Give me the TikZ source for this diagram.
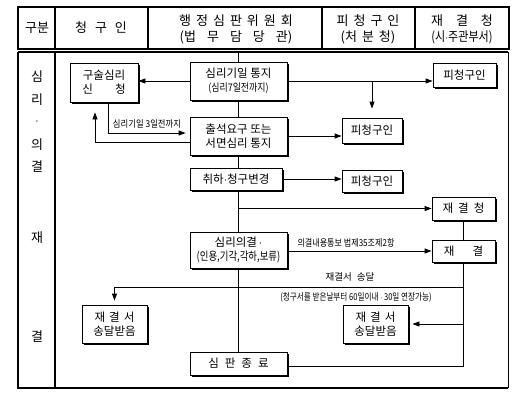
\documentclass[tikz,border=0pt]{standalone}
\usepackage{fontspec}
\usepackage{graphicx}
\setmainfont{Noto Sans CJK KR}
\usetikzlibrary{shadows,arrows.meta,calc}
\tikzset{
  box/.style={draw, line width=0.8pt, fill=white, inner sep=0pt, align=center,
    font=\fontsize{11.5}{14}\selectfont,
    drop shadow={shadow xshift=2pt, shadow yshift=-2pt, fill=black, opacity=1}},
  arr/.style={-{Triangle[length=7pt,width=5pt]}, line width=0.8pt},
  ln/.style={line width=0.8pt},
  frame/.style={line width=1.6pt},
  lbl/.style={font=\fontsize{9.5}{10}\selectfont, inner sep=1pt},
  hd/.style={font=\fontsize{13}{16}\selectfont, align=center, inner sep=0pt},
  side/.style={font=\fontsize{13}{14}\selectfont, inner sep=0pt}
}
\begin{document}
\begin{tikzpicture}[x=1pt,y=-1pt]
\useasboundingbox (0,0) rectangle (516,400);
% header frame
\draw[frame] (18,7) rectangle (509,49);
\draw[frame] (55,7) -- (55,49);
\draw[frame] (148,7) -- (148,49);
\draw[frame] (322,7) -- (322,49);
\draw[frame] (415,7) -- (415,49);
% body frame
\draw[frame] (18,52) -- (508,52);
\draw[frame] (18,52) -- (18,388) -- (508,388);
\draw[line width=1pt] (508,52) -- (508,388);
\draw[frame] (55,52) -- (55,388);
% header texts
\node[hd] (h1) at (37,28) {구분};
\node[hd] (h2) at (101,28) {청\hspace{8pt}구\hspace{8pt}인};
\node[hd] (h3) at (236,29) {행\hspace{5pt}정\hspace{5pt}심\hspace{5pt}판\hspace{5pt}위\hspace{5pt}원\hspace{5pt}회\\(법\hspace{11pt}무\hspace{11pt}담\hspace{11pt}당\hspace{11pt}관)};
\node[hd] (h4) at (368,29) {피\hspace{5pt}청\hspace{5pt}구\hspace{5pt}인\\(처\hspace{5pt}분\hspace{5pt}청)};
\node[hd] (h5) at (462,29) {재\hspace{13pt}결\hspace{13pt}청\\\scalebox{0.85}[1]{(시$\cdot$주관부서)}};
% side texts
\node[side] (s1) at (37,77) {심};
\node[side] (s2) at (37,100) {리};
\node[side] (s3) at (37,122) {$\cdot$};
\node[side] (s4) at (37,145) {의};
\node[side] (s5) at (37,167) {결};
\node[side] (s6) at (37,238) {재};
\node[side] (s7) at (37,337) {결};
% boxes
\node[box, minimum width=68pt, minimum height=39pt] (gusul) at (104,82.5) {구술심리\\신\hspace{22pt}청};
\node[box, minimum width=97pt, minimum height=38pt] (simri) at (238.5,81) {심리기일 통지\\\scalebox{0.85}[1]{\fontsize{10.5}{12}\selectfont(심리7일전까지)}};
\node[box, minimum width=63pt, minimum height=24pt] (p1) at (464.5,75) {피청구인};
\node[box, minimum width=97pt, minimum height=38pt] (chul) at (238.5,136) {출석요구 또는\\서면심리 통지};
\node[box, minimum width=60pt, minimum height=25pt] (p2) at (372,130.5) {피청구인};
\node[box, minimum width=92pt, minimum height=22pt] (chwi) at (236,179) {취하$\cdot$청구변경};
\node[box, minimum width=60pt, minimum height=22pt] (p3) at (372,181) {피청구인};
\node[box, minimum width=63pt, minimum height=23pt] (jc) at (463.5,208.5) {재\hspace{5pt}결\hspace{5pt}청};
\node[box, minimum width=97pt, minimum height=36pt] (uigyeol) at (238.5,250) {심리의결$\,\cdot$\\\scalebox{0.82}[1]{(인용,기각,각하,보류)}};
\node[box, minimum width=63pt, minimum height=22pt] (jg) at (463.5,251) {재\hspace{18pt}결};
\node[box, minimum width=65pt, minimum height=38pt] (js1) at (114.5,324) {재\hspace{4pt}결\hspace{4pt}서\\송달받음};
\node[box, minimum width=65pt, minimum height=38pt] (js2) at (375.5,324) {재\hspace{4pt}결\hspace{4pt}서\\송달받음};
\node[box, minimum width=97pt, minimum height=23pt] (endb) at (238.5,363.5) {심\hspace{6pt}판\hspace{6pt}종\hspace{6pt}료};
% connectors
\coordinate (top) at (238.5,52);
\draw[ln] (top) -- (simri.north);
\draw[ln] (simri.south) -- (chul.north);
\draw[ln] (chul.south) -- (chul.south |- chwi.north);
\draw[ln] (chul.south |- chwi.south) -- (uigyeol.north);
\draw[arr] (chul.south |- jc.west) -- (jc.west);
\draw[ln] (uigyeol.south) -- (endb.north);
\draw[arr] (simri.west) -- (simri.west -| gusul.east);
\draw[arr] (simri.east) -- (simri.east -| p1.west);
\draw[arr, shorten >=9pt] (simri.east -| p2.north) -- (p2.north);
\draw[arr, shorten >=4pt] ($(gusul.south)+(4,0)$) |- ($(chul.west)+(0,-3)$);
\draw[arr, shorten >=10pt] ($(chul.west)+(0,6)$) -| ($(gusul.south)+(-9,0)$);
\draw[arr] (chul.east) -- (chul.east -| p2.west);
\draw[arr] (chwi.east) -- (chwi.east -| p3.west);
\draw[ln] (jc.south) -- (jg.north);
\draw[arr] (uigyeol.east |- jg.west) -- (jg.west);
\coordinate (j1) at ($(jg.south)+(0,25)$);
\draw[ln] (jg.south) |- ($(endb.east)+(0,3)$);
\draw[arr, shorten >=4pt] (j1) -| (js1.north);
\draw[arr, shorten >=4pt] (js2.east -| jg.south) -- (js2.east);
% labels
\node[lbl] (l1) at (147,124) {\scalebox{0.88}[1]{심리기일 3일전까지}};
\node[lbl] (l2) at (346,243) {\scalebox{0.85}[1]{의결내용통보 법제35조제2항}};
\node[lbl] (l3) at (350,277) {재결서\hspace{5pt}송달};
\node[lbl] (l4) at (356,297) {\scalebox{0.8}[1]{(청구서를 받은날부터 60일이내 $\cdot$ 30일 연장가능)}};
\end{tikzpicture}
\end{document}
